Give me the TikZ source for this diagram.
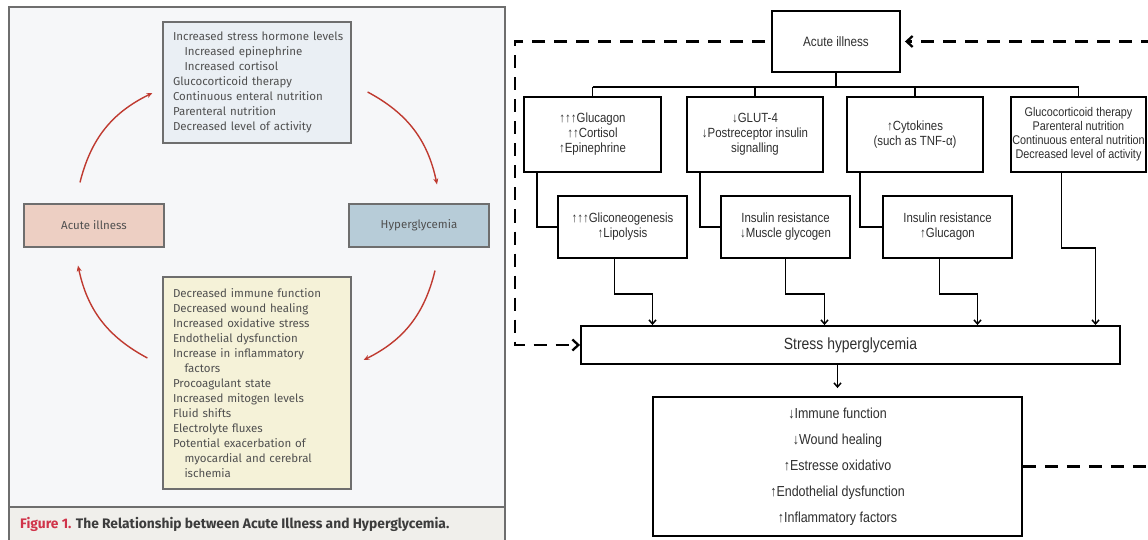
\documentclass[tikz,border=0pt]{standalone}
\usepackage{fontspec}
\setmainfont{Liberation Sans}
\newfontfamily\nejm{Fira Sans}
\newfontfamily\narrow[FakeStretch=0.86]{Liberation Sans}
\usetikzlibrary{arrows.meta}
\definecolor{panelbg}{HTML}{F6F7F9}
\definecolor{capbg}{HTML}{F0EFEB}
\definecolor{framegray}{HTML}{6E6E6E}
\definecolor{causebg}{HTML}{EAEFF4}
\definecolor{illbg}{HTML}{EDCFC3}
\definecolor{hyperbg}{HTML}{B7CCD8}
\definecolor{effectbg}{HTML}{F5F2D8}
\definecolor{cycred}{HTML}{BF3A30}
\definecolor{textgray}{HTML}{505050}
\definecolor{figred}{HTML}{D0344A}
\definecolor{capgray}{HTML}{3C3C3C}
\begin{document}
\begin{tikzpicture}[x=1pt,y=-1pt,
  lbox/.style={draw=framegray,line width=1.2pt,inner sep=0pt,text=textgray,font=\nejm\fontsize{11.5}{15}\selectfont},
  cyc/.style={draw=cycred,line width=1.4pt,-{Stealth[length=6pt,width=5pt]}},
  rbox/.style={draw,line width=1.9pt,inner sep=0pt,align=center,text=black!82,font=\narrow\fontsize{13.3}{15}\selectfont},
  link/.style={line width=1.5pt},
  tip/.style={-{Straight Barb[length=4pt,width=7pt]}},
  feedback/.style={line width=2.3pt,dash pattern=on 13pt off 9pt,-{Straight Barb[length=6pt,width=11pt]}}]
\useasboundingbox (0,0) rectangle (1148,540);
\clip (0,0) rectangle (1148,540);
% left panel
\fill[panelbg] (9,7) rectangle (505,507);
\fill[capbg] (9,507) rectangle (505,540);
\draw[framegray,line width=1.3pt] (9,540) -- (9,7) -- (505,7) -- (505,540);
\draw[framegray,line width=2pt] (9,507) -- (505,507);
\node[lbox,fill=causebg,minimum width=188pt,minimum height=121pt,text width=168pt,align=left] (causes) at (257,82.5)
  {\mbox{Increased stress hormone levels}\\\hspace*{1em}Increased epinephrine\\\hspace*{1em}Increased cortisol\\Glucocorticoid therapy\\Continuous enteral nutrition\\Parenteral nutrition\\Decreased level of activity};
\node[lbox,fill=illbg,minimum width=140pt,minimum height=43pt] (acute) at (94,225.5) {Acute illness};
\node[lbox,fill=hyperbg,minimum width=140pt,minimum height=43pt] (hyper) at (419,225.5) {Hyperglycemia};
\node[lbox,fill=effectbg,minimum width=188pt,minimum height=212pt,text width=168pt,align=left] (effects) at (257,383)
  {Decreased immune function\\Decreased wound healing\\Increased oxidative stress\\Endothelial dysfunction\\Increase in inflammatory\\\hspace*{1em}factors\\Procoagulant state\\Increased mitogen levels\\Fluid shifts\\Electrolyte fluxes\\Potential exacerbation of\\\hspace*{1em}myocardial and cerebral\\\hspace*{1em}ischemia};
\draw[cyc] ([shift={(-14,-21)}]acute.north) to[bend left=25] ([shift={(-10,10.5)}]causes.west);
\draw[cyc] ([shift={(16,9.5)}]causes.east) to[bend left=25] ([shift={(18,-19)}]hyper.north);
\draw[cyc] ([shift={(16,23)}]hyper.south) to[bend left=25] ([shift={(12,-23)}]effects.east);
\draw[cyc] ([shift={(-15,-25)}]effects.west) to[bend left=25] ([shift={(-16,18)}]acute.south);
\node[anchor=west,inner sep=0pt,text=capgray,font=\nejm\bfseries\fontsize{13.8}{15}\selectfont] (caption) at (20,524)
  {\textcolor{figred}{Figure 1.} The Relationship between Acute Illness and Hyperglycemia.};
% right panel
\node[rbox,minimum width=128pt,minimum height=61pt,font=\narrow\fontsize{13.6}{15}\selectfont] (ill) at (836,41.5) {Acute illness};
\node[rbox,minimum width=137pt,minimum height=75pt] (b1) at (592.5,134.5) {↑↑↑Glucagon\\↑↑Cortisol\\↑Epinephrine};
\node[rbox,minimum width=136pt,minimum height=75pt] (b2) at (755,134.5) {↓GLUT-4\\↓Postreceptor insulin\\signalling};
\node[rbox,minimum width=136pt,minimum height=75pt] (b3) at (915,134.5) {↑Cytokines\\(such as TNF-α)};
\node[rbox,minimum width=135pt,minimum height=75pt,font=\narrow\fontsize{12.6}{14}\selectfont] (b4) at (1078.5,134.5)
  {Glucocorticoid therapy\\Parenteral nutrition\\Continuous enteral nutrition\\Decreased level of activity};
\node[rbox,minimum width=129pt,minimum height=62pt] (r2a) at (622.5,227) {↑↑↑Gliconeogenesis\\↑Lipolysis};
\node[rbox,minimum width=129pt,minimum height=62pt] (r2b) at (785.5,227) {Insulin resistance\\↓Muscle glycogen};
\node[rbox,minimum width=129pt,minimum height=62pt] (r2c) at (947.5,227) {Insulin resistance\\↑Glucagon};
\node[rbox,minimum width=539pt,minimum height=38pt,font=\narrow\fontsize{16.2}{17}\selectfont] (stress) at (850.5,345) {Stress hyperglycemia};
\node[rbox,minimum width=369pt,minimum height=139pt,font=\narrow\fontsize{14.5}{26}\selectfont] (outc) at (837.5,466.5)
  {↓Immune function\\↓Wound healing\\↑Estresse oxidativo\\↑Endothelial dysfunction\\↑Inflammatory factors};
\draw[link] (ill.south) -- ++(0,14) coordinate (split);
\draw[link] (b1.north |- split) -- (b4.north |- split);
\foreach \b in {b1,b2,b3,b4} \draw[link] (\b.north |- split) -- (\b.north);
\foreach \u/\l in {b1/r2a,b2/r2b,b3/r2c} \draw[link] ([xshift=14pt]\u.south west) |- (\l.west);
\draw[link,tip] ([xshift=-8pt]r2a.south) -- ++(0,35) -| ([xshift=30pt]r2a.south |- stress.north);
\draw[link,tip] (r2b.south) -- ++(0,35) -| ([xshift=39pt]r2b.south |- stress.north);
\draw[link,tip] ([xshift=-8pt]r2c.south) -- ++(0,35) -| ([xshift=30pt]r2c.south |- stress.north);
\draw[link,tip] ([xshift=-17pt]b4.south) -- ++(0,75) -| ([xshift=17pt]b4.south |- stress.north);
\draw[link,tip] (stress.south -| outc.north) -- ([yshift=8pt]outc.north);
\draw[feedback] ([xshift=-6pt]ill.west) -| ([xshift=-65pt]stress.west) -- (stress.west);
\draw[feedback] (outc.east) -- ++(150,0) |- ([xshift=4pt]ill.east);
\end{tikzpicture}
\end{document}
